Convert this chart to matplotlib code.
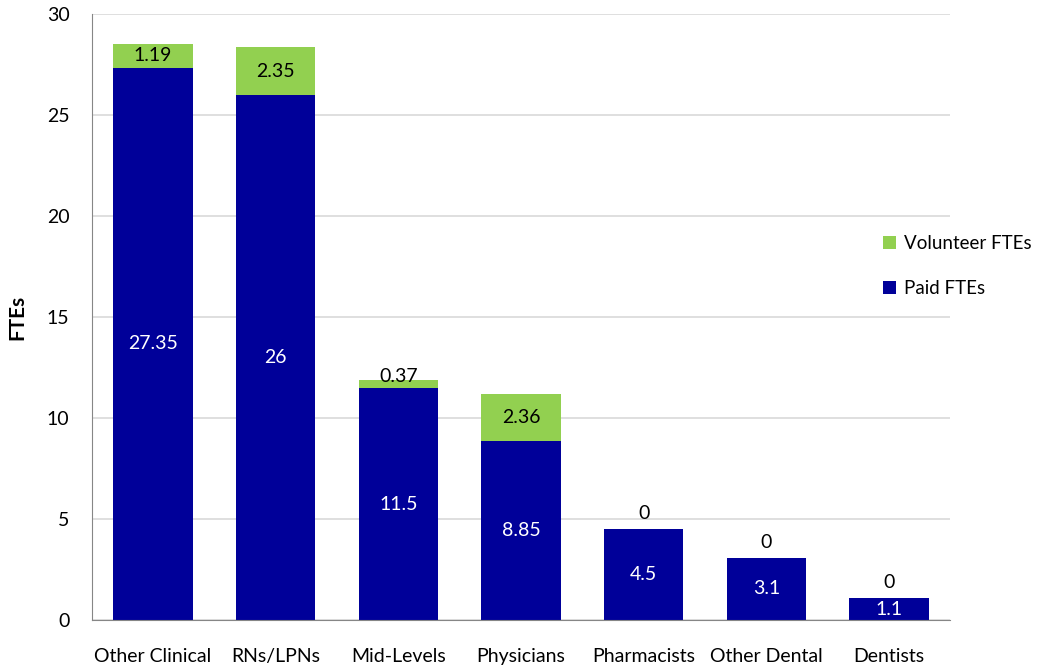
import matplotlib
matplotlib.use("Agg")
import matplotlib.pyplot as plt
import numpy as np

plt.rcParams['font.family'] = ['Lato', 'DejaVu Sans']

categories = ["Other Clinical", "RNs/LPNs", "Mid-Levels", "Physicians", "Pharmacists", "Other Dental", "Dentists"]
paid = [27.35, 26, 11.5, 8.85, 4.5, 3.1, 1.1]
volunteer = [1.19, 2.35, 0.37, 2.36, 0, 0, 0]

paid_color = "#000099"
vol_color = "#92D050"

fig = plt.figure(figsize=(10.42, 6.72), dpi=100)
ax = fig.add_axes([0.088, 0.077, 0.824, 0.902])

x = np.arange(len(categories))
w = 0.645
ax.bar(x, paid, w, color=paid_color, label="Paid FTEs", zorder=2)
ax.bar(x, volunteer, w, bottom=paid, color=vol_color, label="Volunteer FTEs", zorder=2)

fs = 14
for i in range(len(x)):
  ax.text(x[i], paid[i]/2, "%g" % paid[i], ha="center", va="center", color="white", fontsize=fs)
  tot = paid[i] + volunteer[i]
  if volunteer[i] == 0:
    ax.text(x[i], tot + 0.35, "%g" % volunteer[i], ha="center", va="bottom", color="black", fontsize=fs)
  elif volunteer[i] < 1:
    ax.text(x[i], tot - 0.25, "%g" % volunteer[i], ha="center", va="bottom", color="black", fontsize=fs)
  else:
    ax.text(x[i], paid[i] + volunteer[i]/2, "%g" % volunteer[i], ha="center", va="center", color="black", fontsize=fs)

ax.set_ylim(0, 30)
ax.set_xlim(-0.5, len(categories)-0.5)
ax.set_yticks(np.arange(0, 31, 5))
ax.set_xticks(x)
ax.set_xticklabels(categories, fontsize=fs)
ax.tick_params(axis="y", labelsize=fs, length=0, pad=16)
ax.tick_params(axis="x", length=0, pad=20)
ax.yaxis.grid(True, color="#d9d9d9", linewidth=1.2, zorder=0)
ax.set_axisbelow(True)
for s in ["top", "right"]:
  ax.spines[s].set_visible(False)
ax.spines["left"].set_color("#868686")
ax.spines["bottom"].set_color("#868686")
ax.set_ylabel("FTEs", fontsize=15, fontweight="bold", labelpad=14)

h, l = ax.get_legend_handles_labels()
fig.legend(h[::-1], l[::-1], loc="center left", bbox_to_anchor=(0.847, 0.604), frameon=False,
           borderpad=0, borderaxespad=0,
           fontsize=13.5, handlelength=0.7, handleheight=0.7, labelspacing=1.5, handletextpad=0.45)

fig.savefig("out.png", dpi=100)
